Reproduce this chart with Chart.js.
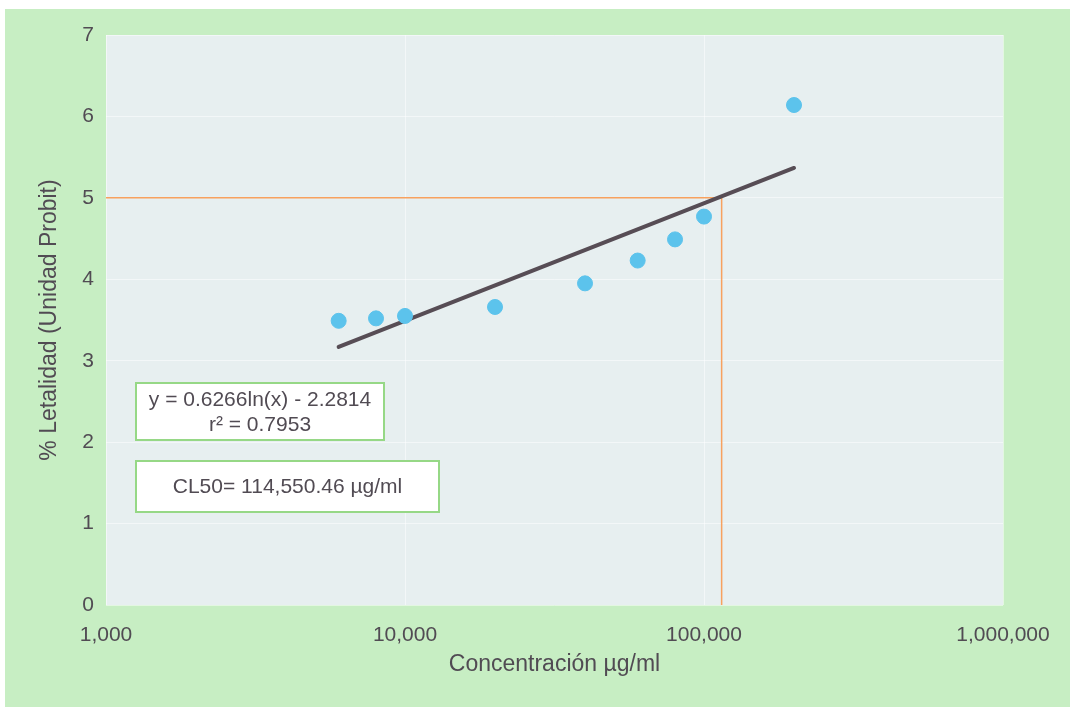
<!DOCTYPE html>
<html lang="es">
<head>
<meta charset="utf-8">
<title>Concentración vs % Letalidad (Probit)</title>
<script src="https://cdn.jsdelivr.net/npm/chart.js@4.4.1/dist/chart.umd.min.js"></script>
<style>
  html, body { margin: 0; padding: 0; background: #ffffff; }
  #wrap { width: 1070px; height: 709px; position: relative; }
</style>
</head>
<body>
<div id="wrap"><canvas id="c" width="1070" height="709"></canvas></div>
<script>
// Concentration (µg/ml) and probit-transformed lethality
const concentrations = [6000, 8000, 10000, 20000, 40000, 60000, 80000, 100000, 200000];
const probitValues   = [3.49, 3.52, 3.55, 3.66, 3.95, 4.23, 4.49, 4.77, 6.14];

// Logarithmic trend line: y = a·ln(x) + b
const trendSlope = 0.6266;
const trendIntercept = -2.2814;
const trendRange = [6000, 200000];
const rSquared = 0.7953;

// Median lethal concentration and the probit level it corresponds to
const cl50 = 114550.46;
const probitAt50 = 5;

const xTicks = [1000, 10000, 100000, 1000000];
const yTicks = [0, 1, 2, 3, 4, 5, 6, 7];

const TEXT = '#514b53';
const FONT = '"Liberation Sans", Arial, sans-serif';

const trendPoints = trendRange.map(x => ({ x, y: trendSlope * Math.log(x) + trendIntercept }));
const cl50Guide = [
  { x: xTicks[0], y: probitAt50 },
  { x: cl50, y: probitAt50 },
  { x: cl50, y: yTicks[0] }
];

const fmt = v => Number(v).toLocaleString('en-US');

const backgroundPlugin = {
  id: 'panels',
  beforeDraw(chart) {
    const { ctx, chartArea: a, width, height } = chart;
    ctx.save();
    ctx.fillStyle = '#ffffff';
    ctx.fillRect(0, 0, width, height);
    ctx.fillStyle = '#c7eec3';
    ctx.fillRect(5, 9, width - 5, height - 11);
    ctx.fillStyle = '#e7eff0';
    ctx.fillRect(a.left, a.top, a.right - a.left, a.bottom - a.top);
    ctx.restore();
  }
};

const boxesPlugin = {
  id: 'infoBoxes',
  afterDraw(chart) {
    const { ctx, chartArea: a } = chart;
    const eq = 'y = ' + trendSlope.toFixed(4) + 'ln(x) - ' + Math.abs(trendIntercept).toFixed(4);
    const r2 = 'r² = ' + rSquared.toFixed(4);
    const cl = 'CL50= ' + cl50.toLocaleString('en-US', { minimumFractionDigits: 2, maximumFractionDigits: 2 }) + ' µg/ml';
    const boxes = [
      { x: a.left + 30, y: a.top + 348, w: 248, h: 57, lines: [eq, r2] },
      { x: a.left + 30, y: a.top + 426, w: 303, h: 51, lines: [cl] }
    ];
    ctx.save();
    ctx.font = '21px ' + FONT;
    ctx.textAlign = 'center';
    ctx.textBaseline = 'middle';
    boxes.forEach(b => {
      ctx.fillStyle = '#ffffff';
      ctx.fillRect(b.x, b.y, b.w, b.h);
      ctx.strokeStyle = '#96d886';
      ctx.lineWidth = 2;
      ctx.strokeRect(b.x, b.y, b.w, b.h);
      ctx.fillStyle = TEXT;
      const lh = 25;
      const startY = b.y + b.h / 2 - (b.lines.length - 1) * lh / 2;
      b.lines.forEach((t, i) => ctx.fillText(t, b.x + b.w / 2, startY + i * lh + 1));
    });
    ctx.restore();
  }
};

new Chart(document.getElementById('c'), {
  type: 'scatter',
  data: {
    datasets: [
      {
        label: 'CL50',
        type: 'line',
        data: cl50Guide,
        borderColor: '#f8a15e',
        borderWidth: 1.5,
        pointRadius: 0,
        fill: false,
        tension: 0,
        order: 3
      },
      {
        label: 'Tendencia logarítmica',
        type: 'line',
        data: trendPoints,
        borderColor: '#574d55',
        borderWidth: 4,
        borderCapStyle: 'round',
        pointRadius: 0,
        fill: false,
        order: 2
      },
      {
        label: 'Probit',
        data: concentrations.map((x, i) => ({ x, y: probitValues[i] })),
        backgroundColor: '#5cc3ec',
        borderColor: '#5cc3ec',
        pointRadius: 7.5,
        pointHoverRadius: 7.5,
        order: 1
      }
    ]
  },
  options: {
    responsive: false,
    animation: false,
    devicePixelRatio: 1,
    layout: { padding: { left: 0, right: 67, top: 35, bottom: 24 } },
    plugins: {
      legend: { display: false },
      tooltip: { enabled: false }
    },
    scales: {
      x: {
        type: 'logarithmic',
        min: xTicks[0],
        max: xTicks[xTicks.length - 1],
        afterBuildTicks(scale) { scale.ticks = xTicks.map(v => ({ value: v })); },
        afterFit(scale) { scale.height = 80; },
        border: { display: false },
        grid: { color: 'rgba(255,255,255,0.5)', lineWidth: 1, drawTicks: false },
        ticks: {
          padding: 18,
          color: TEXT,
          font: { family: FONT, size: 21 },
          maxRotation: 0,
          callback: v => fmt(v)
        },
        title: {
          display: true,
          text: 'Concentración µg/ml',
          color: TEXT,
          font: { family: FONT, size: 23 },
          padding: { top: 0, bottom: 7 }
        }
      },
      y: {
        min: yTicks[0],
        max: yTicks[yTicks.length - 1],
        afterBuildTicks(scale) { scale.ticks = yTicks.map(v => ({ value: v })); },
        afterFit(scale) { scale.width = 106; },
        border: { display: false },
        grid: { color: 'rgba(255,255,255,0.5)', lineWidth: 1, drawTicks: false },
        ticks: {
          padding: 12,
          color: TEXT,
          font: { family: FONT, size: 21 }
        },
        title: {
          display: true,
          text: '% Letalidad (Unidad Probit)',
          color: TEXT,
          font: { family: FONT, size: 23 },
          padding: { top: 36, bottom: 0 }
        }
      }
    }
  },
  plugins: [backgroundPlugin, boxesPlugin]
});
</script>
</body>
</html>
